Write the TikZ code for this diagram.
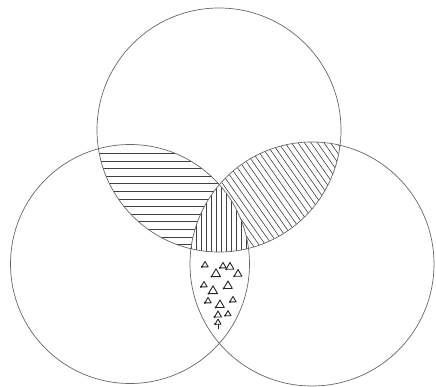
\documentclass[tikz,border=0pt]{standalone}
\begin{document}
\begin{tikzpicture}[x=1pt,y=-1pt,
  ring/.style={draw=black!60, line width=0.7pt},
  hatch/.style={draw=black!75, line width=0.6pt},
  tri/.style={draw=black!85, line width=0.9pt, line join=round}]
\useasboundingbox (0,0) rectangle (436,387);
\coordinate (cT) at (219,130);
\coordinate (cL) at (130,264);
\coordinate (cR) at (312,264);
\def\rT{122}\def\rL{119.5}\def\rR{122}
% horizontal hatching: top & left
\begin{scope}
  \clip (cT) circle[radius=\rT];
  \clip (cL) circle[radius=\rL];
  \foreach \y in {153.3,160.9,...,260} \draw[hatch] (0,\y) -- (436,\y);
\end{scope}
% diagonal hatching: top & right
\begin{scope}
  \clip (cT) circle[radius=\rT];
  \clip (cR) circle[radius=\rR];
  \foreach \x in {60,66.5,...,340} \draw[hatch] (\x,100) -- ++(143.5,204.8);
\end{scope}
% vertical hatching: all three
\begin{scope}
  \clip (cT) circle[radius=\rT];
  \clip (cL) circle[radius=\rL];
  \clip (cR) circle[radius=\rR];
  \fill[white] (150,150) rectangle (300,260);
  \foreach \x in {186,191,...,256} \draw[hatch] (\x,150) -- (\x,260);
\end{scope}
% circles
\draw[ring] (cT) circle[radius=\rT];
\draw[ring] (cL) circle[radius=\rL];
\draw[ring] (cR) circle[radius=\rR];
% triangles
\newcommand\mytri[3]{\draw[tri] (#1,#2) +(0,-#3) -- +(0.866*#3,0.5*#3) -- +(-0.866*#3,0.5*#3) -- cycle;
  \fill[black!85] (#1,#2) +(-0.866*#3,0.5*#3) circle[radius=1.1];}
\mytri{205}{265}{3.6}
\mytri{216}{274}{5.2}
\mytri{223}{266}{3.6}
\mytri{230}{267}{4.5}
\mytri{238}{274}{4.5}
\mytri{204}{285}{3.6}
\mytri{213}{291}{5.2}
\mytri{228}{286}{5.0}
\mytri{208}{301}{3.6}
\mytri{220}{305}{5.0}
\mytri{233}{300}{3.6}
\mytri{218}{315}{4.0}
\mytri{228}{314}{3.4}
\mytri{218}{322.5}{3.4}
\draw[tri] (218,324.2) -- (218,329);
\end{tikzpicture}
\end{document}
